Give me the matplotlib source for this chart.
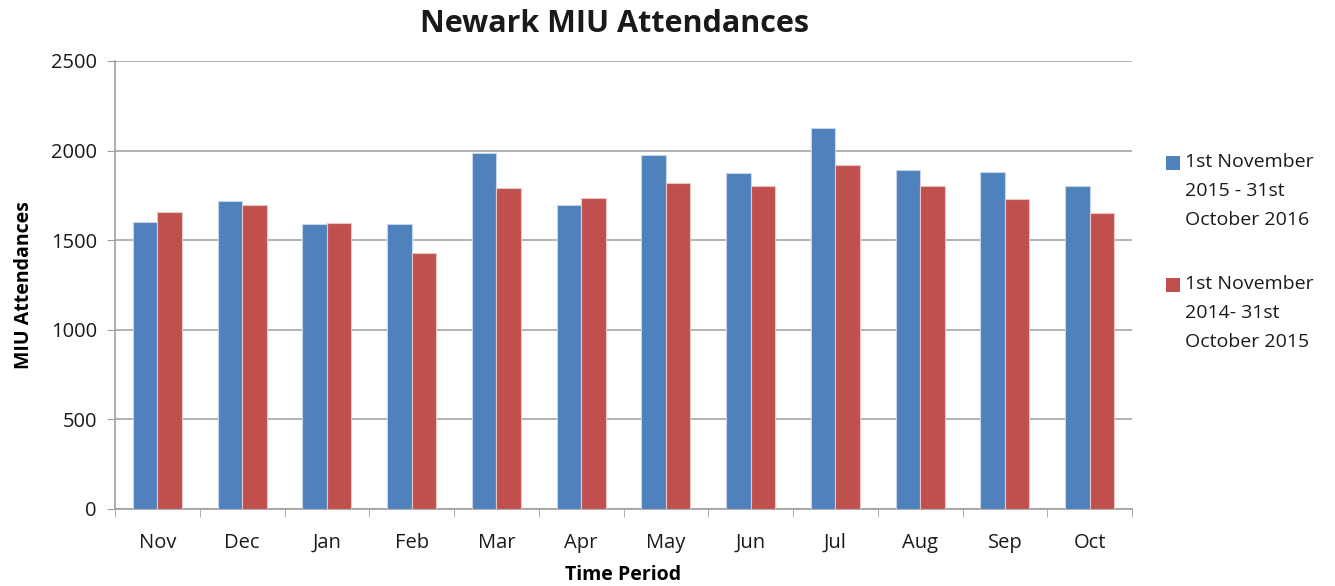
import numpy as np
import matplotlib.pyplot as plt
from matplotlib.patches import Rectangle

months = ["Nov", "Dec", "Jan", "Feb", "Mar", "Apr", "May", "Jun", "Jul", "Aug", "Sep", "Oct"]
att_2016 = [1603, 1717, 1588, 1588, 1989, 1697, 1976, 1875, 2128, 1894, 1881, 1804]
att_2015 = [1659, 1698, 1598, 1430, 1793, 1736, 1819, 1804, 1920, 1804, 1730, 1654]
labels = ["1st November\n2015 - 31st\nOctober 2016", "1st November\n2014- 31st\nOctober 2015"]
colors = ["#4F81BD", "#C0504D"]

plt.rcParams['font.family'] = ['Open Sans', 'DejaVu Sans']

W, H = 1335, 586
fig = plt.figure(figsize=(W / 100, H / 100), dpi=100)
ax = fig.add_axes([115 / W, 1 - 509 / H, (1132 - 115) / W, (509 - 61) / H])

x = np.arange(len(months))
w = 0.29
ax.bar(x - w/2, att_2016, w, color=colors[0], edgecolor="#C6D5EA", linewidth=0.8, zorder=3)
ax.bar(x + w/2, att_2015, w, color=colors[1], edgecolor="#EBC5C4", linewidth=0.8, zorder=3)

ax.set_xlim(-0.5, len(months) - 0.5)
ax.set_ylim(0, 2500)
ax.set_yticks(range(0, 2501, 500))
ax.set_xticks(x)
ax.set_xticklabels(months)
ax.set_xticks(np.arange(-0.5, len(months), 1), minor=True)
ax.tick_params(axis="x", which="major", length=0, labelsize=14.5, pad=17, labelcolor="#1a1a1a")
ax.tick_params(axis="x", which="minor", length=6, color="#A0A0A0")
ax.tick_params(axis="y", length=6, color="#A0A0A0", labelsize=14.5, pad=7, labelcolor="#1a1a1a")
ax.grid(axis="y", color="#A6A6A6", linewidth=1.2, zorder=0)

for s in ["top", "right"]:
    ax.spines[s].set_visible(False)
for s in ["left", "bottom"]:
    ax.spines[s].set_color("#A0A0A0")
    ax.spines[s].set_linewidth(1.2)

fig.text(615 / W, 1 - 24 / H, "Newark MIU Attendances", fontsize=22, fontweight="bold",
         ha="center", va="center", color="#1a1a1a")
ax.set_xlabel("Time Period", fontsize=14, fontweight="bold", labelpad=9)
ax.set_ylabel("MIU Attendances", fontsize=14, fontweight="bold", labelpad=12)

# legend: square aligned with first line of each label
tops = [163, 285]
for lab, col, yc in zip(labels, colors, tops):
    fig.patches.append(Rectangle((1166 / W, 1 - (yc + 7) / H), 14 / W, 14 / H,
                                 transform=fig.transFigure, facecolor=col, edgecolor="none"))
    fig.text(1185 / W, 1 - (yc - 10) / H, lab, fontsize=14, va="top", ha="left",
             linespacing=1.8, color="#1a1a1a")

fig.savefig("out.png", dpi=100)
